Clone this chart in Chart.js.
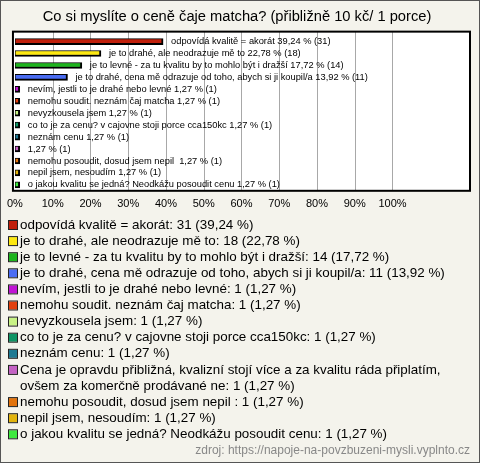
<!DOCTYPE html>
<html>
<head>
<meta charset="utf-8">
<script src="https://cdn.jsdelivr.net/npm/chart.js@4.4.0/dist/chart.umd.min.js"></script>
<style>
    html, body { margin: 0; padding: 0; background: #f4f3ec; }
    canvas { display: block; }
</style>
</head>
<body>
<canvas id="matchaChart" width="480" height="463"></canvas>
<script>
const categories = [
    'odpovídá kvalitě = akorát',
    'je to drahé, ale neodrazuje mě to',
    'je to levné - za tu kvalitu by to mohlo být i dražší',
    'je to drahé, cena mě odrazuje od toho, abych si ji koupil/a',
    'nevím, jestli to je drahé nebo levné',
    'nemohu soudit. neznám čaj matcha',
    'nevyzkousela jsem',
    'co to je za cenu? v cajovne stoji porce cca150kc',
    'neznám cenu',
    'Cena je opravdu přibližná, kvalizní stojí více a za kvalitu ráda připlatím, ovšem za komerčně prodávané ne',
    'nemohu posoudit, dosud jsem nepil ',
    'nepil jsem, nesoudím',
    'o jakou kvalitu se jedná? Neodkážu posoudit cenu'
];
// short names printed next to the bars (the long one is left out there)
const barNames = [
    'odpovídá kvalitě = akorát',
    'je to drahé, ale neodrazuje mě to',
    'je to levné - za tu kvalitu by to mohlo být i dražší',
    'je to drahé, cena mě odrazuje od toho, abych si ji koupil/a',
    'nevím, jestli to je drahé nebo levné',
    'nemohu soudit. neznám čaj matcha',
    'nevyzkousela jsem',
    'co to je za cenu? v cajovne stoji porce cca150kc',
    'neznám cenu',
    '',
    'nemohu posoudit, dosud jsem nepil ',
    'nepil jsem, nesoudím',
    'o jakou kvalitu se jedná? Neodkážu posoudit cenu'
];
const counts = [31, 18, 14, 11, 1, 1, 1, 1, 1, 1, 1, 1, 1];
const percents = [39.24, 22.78, 17.72, 13.92, 1.27, 1.27, 1.27, 1.27, 1.27, 1.27, 1.27, 1.27, 1.27];
const colors = ['#c0200c', '#fde810', '#1cb41c', '#4a6cf2', '#c014d4', '#e2400e', '#c8f284',
                '#0e9464', '#1e7a92', '#c462c4', '#e2740e', '#e2b40e', '#3ee83e'];
const tickLabels = ['0%', '10%', '20%', '30%', '40%', '50%', '60%', '70%', '80%', '90%', '100%'];

const sourceText = 'zdroj: https://napoje-na-povzbuzeni-mysli.vyplnto.cz';
const FONT = '"Liberation Sans", Arial, sans-serif';

function fmt(p) {
    return p.toFixed(2).replace('.', ',');
}

function wrapText(c, text, maxWidth) {
    const words = text.split(' ');
    const lines = [];
    let line = '';
    words.forEach(w => {
        const test = line ? line + ' ' + w : w;
        if (c.measureText(test).width > maxWidth && line) {
            lines.push(line);
            line = w;
        } else {
            line = test;
        }
    });
    lines.push(line);
    return lines;
}

// background, outer frame, white plot area and grid lines (labelled ticks only)
const backgroundPlugin = {
    id: 'backgroundPlugin',
    beforeDraw(chart) {
        const c = chart.ctx;
        const a = chart.chartArea;
        const xs = chart.scales.x;
        c.save();
        c.fillStyle = '#f4f3ec';
        c.fillRect(0, 0, chart.width, chart.height);
        c.strokeStyle = '#555';
        c.lineWidth = 1;
        c.strokeRect(0.5, 0.5, chart.width - 1, chart.height - 1);
        c.fillStyle = '#ffffff';
        c.fillRect(a.left - 2, a.top - 4, a.right - a.left + 4, a.bottom - a.top + 4);

        c.fillStyle = '#a8a8a8';
        for (let i = 1; i < tickLabels.length; i++) {
            const x = Math.round(xs.getPixelForValue(i * 10));
            c.fillRect(x, a.top - 4, 1, a.bottom - a.top + 4);
        }
        c.restore();
    }
};

// value labels next to bars, plot frame and the legend below
const labelsPlugin = {
    id: 'labelsPlugin',
    afterDraw(chart) {
        const c = chart.ctx;
        const a = chart.chartArea;
        c.save();

        const meta = chart.getDatasetMeta(0);
        c.font = '9.3px ' + FONT;
        c.fillStyle = '#000';
        c.textBaseline = 'middle';
        meta.data.forEach((bar, i) => {
            const name = barNames[i] ? barNames[i] + ' ' : '';
            c.fillText(name + fmt(percents[i]) + ' % (' + counts[i] + ')', bar.x + 8, bar.y);
        });

        c.strokeStyle = '#000';
        c.lineWidth = 2;
        c.strokeRect(a.left - 2, a.top - 4, a.right - a.left + 4, a.bottom - a.top + 4);

        // legend
        c.font = '13.4px ' + FONT;
        let y = 225;
        categories.forEach((name, i) => {
            const text = name + ': ' + counts[i] + ' (' + fmt(percents[i]) + ' %)';
            const lines = wrapText(c, text, 440);
            c.fillStyle = colors[i];
            c.fillRect(9, y - 4, 8, 8);
            c.strokeStyle = '#222';
            c.lineWidth = 1;
            c.strokeRect(8.5, y - 4.5, 9, 9);
            c.fillStyle = '#000';
            lines.forEach(l => {
                c.fillText(l, 20, y);
                y += 16.1;
            });
        });

        c.font = '12px ' + FONT;
        c.fillStyle = '#888';
        c.textAlign = 'right';
        c.fillText(sourceText, 470, 451);
        c.restore();
    }
};

const ctx = document.getElementById('matchaChart').getContext('2d');
const matchaChart = new Chart(ctx, {
    type: 'bar',
    data: {
        labels: categories,
        datasets: [{
            data: percents,
            backgroundColor: colors,
            borderColor: '#000',
            borderWidth: { top: 1, left: 1, right: 2, bottom: 2 },
            borderSkipped: false,
            barThickness: 6
        }]
    },
    options: {
        indexAxis: 'y',
        responsive: false,
        animation: false,
        layout: {
            padding: { top: 0, left: 6, right: 12, bottom: 245 }
        },
        scales: {
            x: {
                min: 0,
                max: 120,
                border: { display: false },
                grid: { display: false, drawTicks: false },
                ticks: {
                    stepSize: 10,
                    padding: 7,
                    color: '#000',
                    font: { size: 11, family: FONT },
                    callback: (v) => tickLabels[v / 10] || ''
                }
            },
            y: {
                display: false
            }
        },
        plugins: {
            legend: { display: false },
            tooltip: { enabled: false },
            title: {
                display: true,
                text: 'Co si myslíte o ceně čaje matcha? (přibližně 10 kč/ 1 porce)',
                color: '#000',
                font: { size: 14.7, weight: 'normal', family: FONT },
                padding: { top: 8, bottom: 10 }
            }
        }
    },
    plugins: [backgroundPlugin, labelsPlugin]
});
</script>
</body>
</html>
